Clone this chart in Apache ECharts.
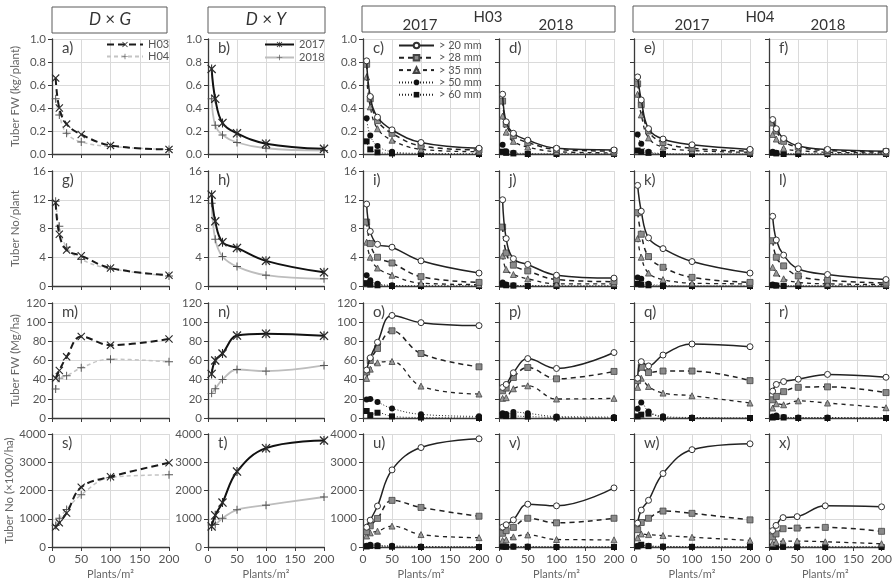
<!DOCTYPE html>
<html><head><meta charset="utf-8">
<script src="https://cdn.jsdelivr.net/npm/echarts@6/dist/echarts.min.js"></script>
<style>html,body{margin:0;padding:0;background:#fff}#c{width:895px;height:581px}</style>
</head><body><div id="c"></div>
<script>
// ---------------- data ----------------
const densities = [6.25, 12.5, 25, 50, 100, 200];
const xTicks = [0, 50, 100, 150, 200];
const rowTitles = ['Tuber FW (kg/plant)', 'Tuber No/plant', 'Tuber FW (Mg/ha)', 'Tuber No (×1000/ha)'];
const yMaxByRow = [1, 16, 120, 4000];
const yStepByRow = [0.2, 4, 20, 1000];
const panelLetters = ['a','b','c','d','e','f','g','h','i','j','k','l','m','n','o','p','q','r','s','t','u','v','w','x'];
const genotypes = ['H03', 'H04'];
const years = ['2017', '2018'];
const sizeClasses = ['> 20 mm', '> 28 mm', '> 35 mm', '> 50 mm', '> 60 mm'];

// D x G  (H03, H04)
const a_DxG = [[0.66,0.40,0.26,0.17,0.075,0.04],[0.48,0.34,0.18,0.105,0.065,0.04]];
const g_DxG = [[11.6,7.2,5.0,4.2,2.5,1.5],[11.8,8.3,5.4,3.7,2.4,1.4]];
const m_DxG = [[41.6,49.6,63.8,85,76,82.5],[30.2,41.6,44,52.4,61.4,58.6]];
const s_DxG = [[705,855,1200,2115,2485,2980],[763,1017,1330,1850,2460,2555]];
// D x Y  (2017, 2018)
const b_DxY = [[0.74,0.48,0.27,0.18,0.09,0.045],[0.48,0.25,0.165,0.10,0.05,0.03]];
const h_DxY = [[12.7,9.0,6.1,5.3,3.5,1.9],[11.5,6.5,4.1,2.7,1.5,1.0]];
const n_DxY = [[46,60,67.3,86,88,85.7],[25.7,30.5,40.2,50.6,48.9,54.8]];
const t_DxY = [[730,1120,1572,2670,3500,3770],[780,800,1017,1318,1480,1770]];
// size classes (>20, >28, >35, >50, >60)
const c_H03_2017 = [[0.81,0.50,0.32,0.21,0.10,0.05],[0.78,0.48,0.29,0.18,0.07,0.035],[0.67,0.41,0.22,0.12,0.04,0.02],[0.31,0.16,0.07,0.02,0.005,0],[0.11,0.04,0.015,0.005,0,0]];
const d_H03_2018 = [[0.52,0.28,0.18,0.12,0.05,0.035],[0.46,0.26,0.16,0.10,0.04,0.025],[0.33,0.19,0.11,0.06,0.02,0.01],[0.08,0.025,0.01,0.005,0,0],[0.02,0.01,0.005,0,0,0]];
const e_H04_2017 = [[0.67,0.47,0.22,0.13,0.08,0.04],[0.61,0.43,0.20,0.10,0.05,0.025],[0.52,0.34,0.14,0.06,0.03,0.015],[0.17,0.09,0.02,0.005,0,0],[0.03,0.02,0.01,0,0,0]];
const f_H04_2018 = [[0.30,0.22,0.135,0.07,0.04,0.025],[0.27,0.20,0.11,0.06,0.03,0.02],[0.17,0.13,0.05,0.03,0.015,0.01],[0.02,0.01,0.005,0,0,0],[0.01,0.005,0,0,0,0]];
const i_H03_2017 = [[11.4,7.6,5.8,5.4,3.5,1.8],[8.9,5.9,4.0,3.2,1.3,0.5],[6.1,4.0,2.5,1.5,0.4,0.2],[1.5,0.8,0.3,0.1,0,0],[0.4,0.2,0.1,0,0,0]];
const j_H03_2018 = [[12.0,6.6,3.8,3.0,1.5,1.1],[8.2,4.6,2.9,2.1,0.9,0.6],[4.2,2.3,1.6,1.0,0.3,0.3],[0.5,0.2,0.1,0.05,0,0],[0.2,0.1,0.05,0,0,0]];
const k_H04_2017 = [[14.0,10.4,6.7,5.2,3.4,1.8],[10.2,7.2,4.1,2.6,1.2,0.5],[6.6,4.0,1.8,0.9,0.4,0.3],[1.2,1.0,0.3,0.1,0,0],[0.3,0.2,0.1,0,0,0]];
const l_H04_2018 = [[9.7,6.4,4.3,2.4,1.6,0.9],[6.3,4.0,2.8,1.4,0.8,0.4],[2.6,1.8,1.0,0.5,0.3,0.2],[0.2,0.1,0.05,0,0,0],[0.1,0.05,0,0,0,0]];
const o_H03_2017 = [[50,62.8,79,107,99.5,96.4],[48,60,72.5,91,67.3,53.4],[41.3,51,57.6,59,33.3,25],[19.4,19.8,16.6,10,3.8,1.7],[7.3,3,5.5,1.7,0.5,0]];
const p_H03_2018 = [[31.9,35,47.2,62,51.7,68.3],[28.4,31.2,42.3,52.7,40.9,48.6],[20.5,21.2,30.5,33.6,19.8,20.5],[4.9,4.2,6.2,4.9,1.5,1],[3,2,2,1.5,0.5,0]];
const q_H04_2017 = [[41.5,58.8,54.3,65.7,77.2,74.4],[39,52.9,47.4,49,49,39],[32,41.5,32.9,26,23.2,15.6],[9.7,16.3,6.9,1.7,0.5,0],[1.7,3.5,4.5,0.5,0,0]];
const r_H04_2018 = [[28,35,38,40.5,45.5,42.5],[19,22.5,27.5,32,32.5,26.5],[10.4,14.9,13.8,17.9,15.6,10.7],[1.5,2.5,1,0.5,0.5,0],[0.5,1,0.5,0,0,0]];
const u_H03_2017 = [[700,950,1450,2730,3520,3830],[540,750,1010,1650,1400,1090],[390,500,560,740,440,330],[40,80,60,40,20,10],[20,40,30,10,0,0]];
const v_H03_2018 = [[705,786,960,1515,1457,2092],[486,578,694,1017,855,1017],[231,254,358,428,266,254],[20,15,20,15,5,5],[10,5,10,5,0,0]];
const w_H04_2017 = [[844,1306,1653,2601,3445,3653],[613,867,1017,1272,1191,960],[324,462,439,405,347,231],[40,60,40,20,10,5],[20,80,30,10,5,0]];
const x_H04_2018 = [[578,763,1040,1075,1457,1422],[358,462,647,670,694,555],[127,173,208,208,185,116],[10,10,10,5,5,0],[5,5,5,0,0,0]];

// ---------------- layout / style ----------------
const colLeft = [52, 208, 363, 499, 634, 769];
const colWidth = [117, 116, 116, 115, 116, 117];
const rowTop = [39, 171, 303, 434];
const rowHeight = 115;
const FONT = 'Lato';

const X_PATH = 'path://M1,0L5,4L9,0L10,1L6,5L10,9L9,10L5,6L1,10L0,9L4,5L0,1Z';
const PLUS_PATH = 'path://M4.4,0H5.6V4.4H10V5.6H5.6V10H4.4V5.6H0V4.4H4.4Z';
const STAR_PATH = 'path://M1,0L5,4L9,0L10,1L6,5L10,9L9,10L5,6L1,10L0,9L4,5L0,1Z M4.4,0H5.6V10H4.4Z';

const stylesG = [
  {symbol: X_PATH, symbolSize: 8, itemStyle: {color: '#2a2a2a'}, lineStyle: {color: '#1a1a1a', width: 2, type: [7, 4]}},
  {symbol: PLUS_PATH, symbolSize: 8, itemStyle: {color: '#555'}, lineStyle: {color: '#c4c4c4', width: 1.5, type: [4, 3]}}
];
const stylesY = [
  {symbol: STAR_PATH, symbolSize: 9, itemStyle: {color: '#2a2a2a'}, lineStyle: {color: '#111', width: 2, type: 'solid'}},
  {symbol: PLUS_PATH, symbolSize: 8, itemStyle: {color: '#555'}, lineStyle: {color: '#bdbdbd', width: 1.8, type: 'solid'}}
];
const stylesS = [
  {symbol: 'circle', symbolSize: 6, itemStyle: {color: '#fff', borderColor: '#333', borderWidth: 1}, lineStyle: {color: '#222', width: 1.5, type: 'solid'}},
  {symbol: 'rect', symbolSize: 6, itemStyle: {color: '#8a8a8a', borderColor: '#444', borderWidth: 0.8}, lineStyle: {color: '#222', width: 1.5, type: [5, 4]}},
  {symbol: 'triangle', symbolSize: 6, itemStyle: {color: '#999', borderColor: '#444', borderWidth: 0.8}, lineStyle: {color: '#222', width: 1.3, type: [4, 4]}},
  {symbol: 'circle', symbolSize: 6, itemStyle: {color: '#111'}, lineStyle: {color: '#222', width: 1, type: [1, 2]}},
  {symbol: 'rect', symbolSize: 6, itemStyle: {color: '#111'}, lineStyle: {color: '#222', width: 1, type: [1, 2]}}
];

const panelData = [
  [a_DxG, b_DxY, c_H03_2017, d_H03_2018, e_H04_2017, f_H04_2018],
  [g_DxG, h_DxY, i_H03_2017, j_H03_2018, k_H04_2017, l_H04_2018],
  [m_DxG, n_DxY, o_H03_2017, p_H03_2018, q_H04_2017, r_H04_2018],
  [s_DxG, t_DxY, u_H03_2017, v_H03_2018, w_H04_2017, x_H04_2018]
];

const grids = [], xAxes = [], yAxes = [], series = [], graphics = [];
for (let r = 0; r < 4; r++) {
  for (let c = 0; c < 6; c++) {
    const gi = r * 6 + c;
    grids.push({left: colLeft[c], top: rowTop[r], width: colWidth[c], height: rowHeight, containLabel: false});
    xAxes.push({
      type: 'value', gridIndex: gi, min: xTicks[0], max: xTicks[xTicks.length - 1], interval: 50,
      axisLine: {show: true, lineStyle: {color: '#3a3a3a', width: 1.3}},
      axisTick: {show: true, length: 4, lineStyle: {color: '#3a3a3a'}},
      axisLabel: {show: r === 3, color: '#555', fontSize: 12, fontFamily: FONT, margin: 6},
      splitLine: {show: true, lineStyle: {color: '#dadada', width: 1}},
      name: r === 3 ? 'Plants/m²' : '', nameLocation: 'middle', nameGap: 22,
      nameTextStyle: {color: '#666', fontSize: 11, fontFamily: FONT}
    });
    yAxes.push({
      type: 'value', gridIndex: gi, min: 0, max: yMaxByRow[r], interval: yStepByRow[r],
      axisLine: {show: true, lineStyle: {color: '#3a3a3a', width: 1.3}},
      axisTick: {show: true, length: 4, lineStyle: {color: '#3a3a3a'}},
      axisLabel: {show: c < 3, color: '#555', fontSize: 11.5, fontFamily: FONT, margin: 6,
        formatter: v => r === 0 ? v.toFixed(1) : String(v)},
      splitLine: {show: true, lineStyle: {color: '#dadada', width: 1}},
      name: c === 0 ? rowTitles[r] : '', nameLocation: 'middle', nameGap: 31,
      nameTextStyle: {color: '#666', fontSize: 11.5, fontFamily: FONT}
    });
    const sets = panelData[r][c];
    let names, styles;
    if (c === 0) { names = genotypes; styles = stylesG; }
    else if (c === 1) { names = years; styles = stylesY; }
    else { names = sizeClasses; styles = stylesS; }
    for (let k = sets.length - 1; k >= 0; k--) {
      const st = styles[k];
      series.push({
        type: 'line', name: names[k], xAxisIndex: gi, yAxisIndex: gi,
        data: densities.map((d, idx) => [d, sets[k][idx]]),
        smooth: 0.4, symbol: st.symbol, symbolSize: st.symbolSize,
        itemStyle: st.itemStyle, lineStyle: st.lineStyle, showSymbol: true,
        z: 3 + (sets.length - k), silent: true
      });
    }
    graphics.push({type: 'text', left: colLeft[c] + 10, top: rowTop[r] + 2,
      style: {text: panelLetters[gi] + ')', fontSize: 15, fontFamily: FONT, fill: '#444'}});
  }
}

// header boxes
function box(x, y, w, h) {
  return {type: 'rect', shape: {x: x, y: y, width: w, height: h}, style: {fill: '#fff', stroke: '#5a5a5a', lineWidth: 1}};
}
function txt(x, y, t, size, rich) {
  return {type: 'text', x: x, y: y, style: {text: t, fontSize: size, fontFamily: FONT, fill: '#333', align: 'center', verticalAlign: 'middle', rich: rich || {}}};
}
const italic = {i: {fontStyle: 'italic', fontSize: 17, fontFamily: FONT, fill: '#333'}};
graphics.push(box(52, 7, 115, 26), txt(110, 20, '{i|D} × {i|G}', 17, italic));
graphics.push(box(208, 7, 117, 26), txt(266, 20, '{i|D} × {i|Y}', 17, italic));
graphics.push(box(362, 6, 253, 26), txt(488, 17, 'H03', 15), txt(420, 25, '2017', 15), txt(556, 25, '2018', 15));
graphics.push(box(633, 6, 254, 26), txt(760, 17, 'H04', 15), txt(692, 25, '2017', 15), txt(828, 25, '2018', 15));

const legendText = {color: '#555', fontSize: 11, fontFamily: FONT, lineHeight: 10, padding: [0, 0, 0, 0]};
const option = {
  animation: false,
  backgroundColor: '#fff',
  grid: grids, xAxis: xAxes, yAxis: yAxes, series: series,
  legend: [
    {data: genotypes, left: 106, top: 39, orient: 'vertical', itemGap: 1, itemWidth: 36, itemHeight: 7, padding: 0, textStyle: legendText, selectedMode: false},
    {data: years, left: 264, top: 39, orient: 'vertical', itemGap: 2, itemWidth: 29, itemHeight: 7, padding: 0, textStyle: legendText, selectedMode: false},
    {data: sizeClasses, left: 398, top: 40, orient: 'vertical', itemGap: 1.3, itemWidth: 35, itemHeight: 7, padding: 0, textStyle: legendText, selectedMode: false}
  ],
  graphic: graphics
};
const chart = echarts.init(document.getElementById('c'), null, {renderer: 'canvas'});
chart.setOption(option);
</script>
</body></html>
